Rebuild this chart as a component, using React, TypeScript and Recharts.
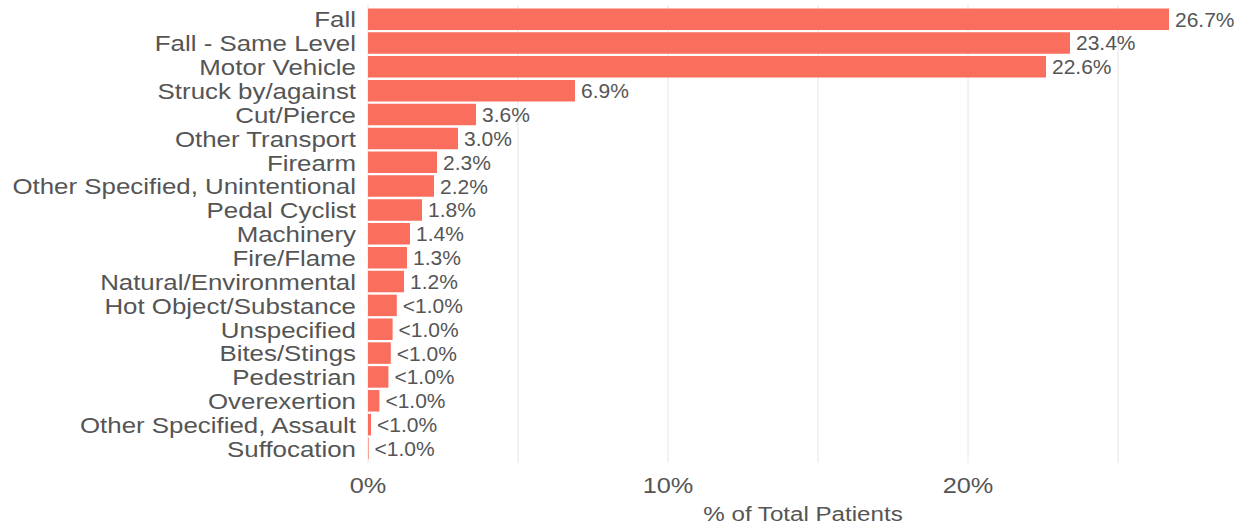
import React from 'react';
import { BarChart, Bar, XAxis, YAxis, CartesianGrid, LabelList, Label } from 'recharts';

const categories = [
  'Fall',
  'Fall - Same Level',
  'Motor Vehicle',
  'Struck by/against',
  'Cut/Pierce',
  'Other Transport',
  'Firearm',
  'Other Specified, Unintentional',
  'Pedal Cyclist',
  'Machinery',
  'Fire/Flame',
  'Natural/Environmental',
  'Hot Object/Substance',
  'Unspecified',
  'Bites/Stings',
  'Pedestrian',
  'Overexertion',
  'Other Specified, Assault',
  'Suffocation',
];

const percents = [26.7, 23.4, 22.6, 6.9, 3.6, 3.0, 2.3, 2.2, 1.8, 1.4, 1.3, 1.2, 0.96, 0.82, 0.76, 0.68, 0.38, 0.1, 0.02];

const valueLabels = [
  '26.7%', '23.4%', '22.6%', '6.9%', '3.6%', '3.0%', '2.3%', '2.2%', '1.8%', '1.4%', '1.3%', '1.2%',
  '<1.0%', '<1.0%', '<1.0%', '<1.0%', '<1.0%', '<1.0%', '<1.0%',
];

const xTicks = [0, 10, 20];
const gridValues = [0, 5, 10, 15, 20, 25];

const data = categories.map((name, i) => ({ name, value: percents[i], label: valueLabels[i] }));

const FONT = '"Liberation Sans", Arial, sans-serif';
const TEXT = '#555555';
const STRETCH = 1.15; // the reference text is a bit wide

const YTick = (props: any) => {
  const { x, y, payload } = props;
  return (
    <text
      transform={`translate(${x},${y}) scale(${STRETCH},1)`}
      textAnchor="end"
      dy="0.36em"
      fill={TEXT}
      fontSize={22.5}
      fontFamily={FONT}
    >
      {payload.value}
    </text>
  );
};

const XTick = (props: any) => {
  const { x, y, payload } = props;
  return (
    <text
      transform={`translate(${x},${y}) scale(${STRETCH},1)`}
      textAnchor="middle"
      dy={22}
      fill={TEXT}
      fontSize={22}
      fontFamily={FONT}
    >
      {`${payload.value}%`}
    </text>
  );
};

const AxisTitle = (props: any) => {
  const { viewBox } = props;
  const cx = viewBox.x + viewBox.width / 2;
  const by = viewBox.y + viewBox.height - 8;
  return (
    <text
      transform={`translate(${cx},${by}) scale(${STRETCH},1)`}
      textAnchor="middle"
      fill={TEXT}
      fontSize={21}
      fontFamily={FONT}
    >
      % of Total Patients
    </text>
  );
};

const App: React.FC = () => {
  return (
    <div style={{ position: 'absolute', top: 0, left: 0, width: 1242, height: 529, background: '#fff' }}>
      <BarChart
        width={1242}
        height={529}
        data={data}
        layout="vertical"
        margin={{ top: 5, right: 4, bottom: 0, left: 0 }}
        barSize={21.5}
      >
        <CartesianGrid horizontal={false} verticalValues={gridValues} stroke="#e6e6e6" strokeWidth={1} />
        <XAxis
          type="number"
          domain={[0, 29]}
          ticks={xTicks}
          axisLine={false}
          tickLine={false}
          tickSize={6}
          tickMargin={2}
          height={66}
          tick={<XTick />}
        >
          <Label content={<AxisTitle />} />
        </XAxis>
        <YAxis
          type="category"
          dataKey="name"
          width={368}
          axisLine={false}
          tickLine={false}
          tickSize={6}
          tickMargin={6}
          interval={0}
          padding={{ top: 2.4, bottom: 2.4 }}
          tick={<YTick />}
        />
        <Bar dataKey="value" fill="#F96E5D" isAnimationActive={false}>
          <LabelList
            dataKey="label"
            position="right"
            offset={6}
            style={{ fill: TEXT, fontSize: 21, fontFamily: FONT }}
          />
        </Bar>
      </BarChart>
    </div>
  );
};

export default App;
